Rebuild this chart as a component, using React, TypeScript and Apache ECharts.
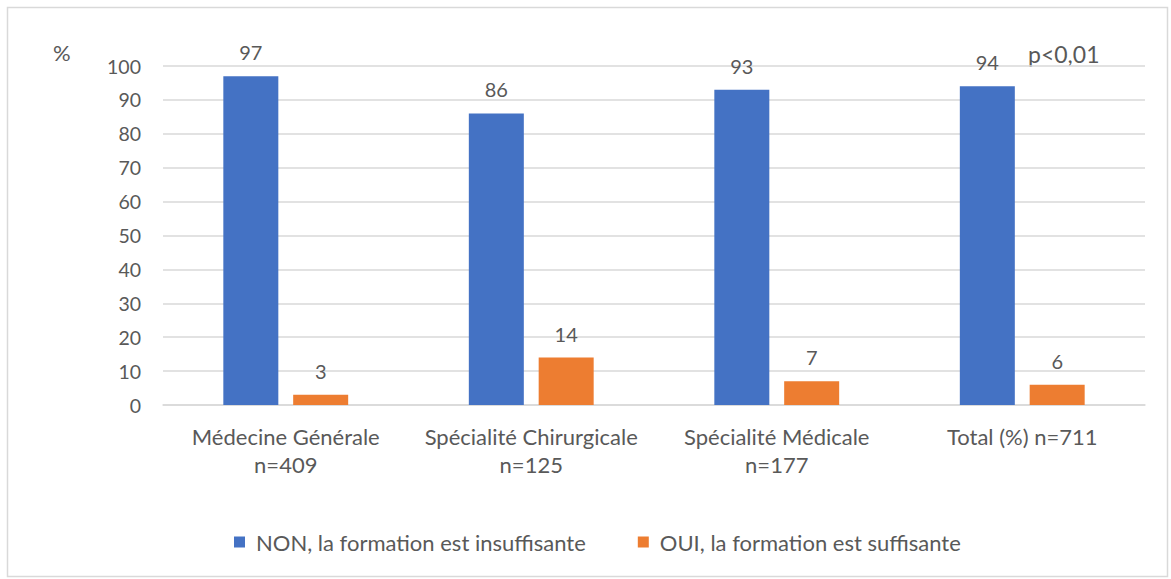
import React, { useEffect, useRef } from "react";
import * as echarts from "echarts";

const categories = [
  "Médecine Générale\nn=409",
  "Spécialité Chirurgicale\nn=125",
  "Spécialité Médicale\nn=177",
  "Total (%) n=711",
];
const seriesNames = ["NON, la formation est insuffisante", "OUI, la formation est suffisante"];
const nonValues = [97, 86, 93, 94];
const ouiValues = [3, 14, 7, 6];
const yTicks = { min: 0, max: 100, interval: 10 };

const FONT = "Lato, 'Open Sans', sans-serif";
const TXT = "#595959";

export default function App() {
  const ref = useRef<HTMLDivElement>(null);
  useEffect(() => {
    if (!ref.current) return;
    const chart = echarts.init(ref.current, null, { renderer: "svg" });
    chart.setOption({
      animation: false,
      backgroundColor: "#ffffff",
      textStyle: { fontFamily: FONT, color: TXT },
      grid: { left: 163, right: 26, top: 66, bottom: 174 },
      xAxis: {
        type: "category",
        data: categories,
        axisLine: { lineStyle: { color: "#d9d9d9", width: 1.5 } },
        axisTick: { show: false },
        axisLabel: { color: TXT, fontSize: 22, fontFamily: FONT, lineHeight: 28, margin: 17, interval: 0 },
      },
      yAxis: {
        type: "value",
        min: yTicks.min,
        max: yTicks.max,
        interval: yTicks.interval,
        axisLine: { show: false },
        axisTick: { show: false },
        splitLine: { lineStyle: { color: "#d9d9d9", width: 1.5 } },
        axisLabel: { color: TXT, fontSize: 19.5, fontFamily: FONT, margin: 22 },
      },
      legend: {
        bottom: 21,
        left: 229,
        itemWidth: 11,
        itemHeight: 11,
        itemGap: 52,
        icon: "rect",
        textStyle: { color: TXT, fontSize: 22, fontFamily: FONT, padding: [0, 0, 0, 6] },
        data: seriesNames,
      },
      series: [
        {
          name: seriesNames[0],
          type: "bar",
          data: nonValues,
          barWidth: 55,
          barGap: "27%",
          itemStyle: { color: "#4472c4" },
          label: { show: true, position: "top", distance: 14, color: TXT, fontSize: 20, fontFamily: FONT },
        },
        {
          name: seriesNames[1],
          type: "bar",
          data: ouiValues,
          barWidth: 55,
          barGap: "27%",
          itemStyle: { color: "#ed7d31" },
          label: { show: true, position: "top", distance: 14, color: TXT, fontSize: 20, fontFamily: FONT },
        },
      ],
      graphic: [
        {
          type: "rect",
          shape: { x: 7.5, y: 7.5, width: 1160, height: 569 },
          style: { fill: "none", stroke: "#d9d9d9", lineWidth: 1.5 },
          silent: true,
        },
        {
          type: "text",
          x: 53,
          y: 41,
          style: { text: "%", fill: TXT, fontSize: 22, fontFamily: FONT },
        },
        {
          type: "text",
          x: 1028,
          y: 42,
          style: { text: "p<0,01", fill: TXT, fontSize: 23, fontFamily: FONT },
        },
      ],
    });
    return () => chart.dispose();
  }, []);
  return (
    <div
      ref={ref}
      style={{ position: "fixed", left: 0, top: 0, width: 1171, height: 579 }}
    />
  );
}
